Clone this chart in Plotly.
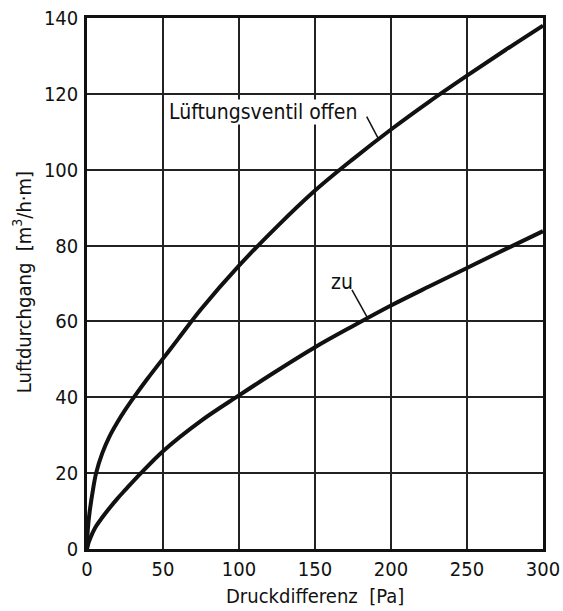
import plotly.graph_objects as go

# Data
p_offen = [0, 0.5, 1.8, 4, 6, 10, 14.6, 20, 25, 31.4, 40, 50, 60, 75, 100,
           125, 150, 175, 200, 225, 250, 275, 300]
q_offen = [0, 5, 10, 15.8, 20, 25.2, 29.5, 33.4, 36.6, 40.3, 45, 50.2, 55.4, 63.2, 74.7,
           85, 94.5, 102.8, 110.6, 117.9, 124.8, 131.5, 138]
p_zu = [0, 1, 2.3, 5.2, 10, 15, 20, 25, 35, 50, 75, 100, 125, 150, 175, 200, 225, 250, 275, 300]
q_zu = [0, 1.6, 3, 5.5, 8.3, 10.9, 13.3, 15.5, 19.8, 25.8, 33.8, 40.5, 47, 53.2, 58.8, 64.2, 69.2, 74.1, 79, 83.8]

x_ticks = [0, 50, 100, 150, 200, 250, 300]
y_ticks = [0, 20, 40, 60, 80, 100, 120, 140]

FONT = "DejaVu Sans Condensed, Liberation Sans Narrow, Roboto Condensed, Liberation Sans, sans-serif"
INK = "#111"

fig = go.Figure()
fig.add_trace(go.Scatter(x=p_offen, y=q_offen, mode="lines",
                         line=dict(color=INK, width=4, shape="spline", smoothing=1.0),
                         showlegend=False, hoverinfo="skip"))
fig.add_trace(go.Scatter(x=p_zu, y=q_zu, mode="lines",
                         line=dict(color=INK, width=4, shape="spline", smoothing=1.0),
                         showlegend=False, hoverinfo="skip"))

# Curve labels with leader lines
fig.add_annotation(x=53, y=115.3, text="Lüftungsventil offen", showarrow=False,
                   xanchor="left", yanchor="middle", font=dict(size=21, color=INK, family=FONT),
                   bgcolor="white", borderpad=0)
fig.add_shape(type="line", x0=184, y0=114, x1=191.4, y1=108.4,
              line=dict(color=INK, width=1.5))
fig.add_annotation(x=168, y=70.4, text="zu", showarrow=False,
                   xanchor="center", yanchor="middle", font=dict(size=21, color=INK, family=FONT))
fig.add_shape(type="line", x0=174.3, y0=68.3, x1=184.2, y1=61.2,
              line=dict(color=INK, width=1.5))

# Axis titles placed explicitly
fig.add_annotation(xref="paper", yref="paper", x=0.5, y=-0.0885, text="Druckdifferenz  [Pa]",
                   showarrow=False, xanchor="center", yanchor="middle",
                   font=dict(size=20, color=INK, family=FONT))
fig.add_annotation(xref="paper", yref="paper", x=-0.142, y=0.503, text="Luftdurchgang  [m<sup>3</sup>/h·m]",
                   showarrow=False, xanchor="center", yanchor="middle", textangle=-90,
                   font=dict(size=20, color=INK, family=FONT))

axis_common = dict(showgrid=True, gridcolor="#222", gridwidth=1.5,
                   showline=True, linecolor=INK, linewidth=2.5, mirror=True,
                   zeroline=False, ticks="", automargin=False,
                   tickfont=dict(size=20, color=INK, family=FONT))

fig.update_xaxes(range=[0, 300], tickvals=x_ticks, ticktext=[str(v) for v in x_ticks],
                 ticklabelstandoff=0, **axis_common)
fig.update_yaxes(range=[0, 140], tickvals=y_ticks, ticktext=[str(v) for v in y_ticks],
                 ticklabelstandoff=2, **axis_common)

fig.update_layout(width=563, height=611, margin=dict(l=87, r=20, t=18, b=62),
                  plot_bgcolor="white", paper_bgcolor="white",
                  font=dict(family=FONT, color=INK))

fig.write_html("out.html", config={"displayModeBar": False},
               post_script="document.body.style.margin='0';")
